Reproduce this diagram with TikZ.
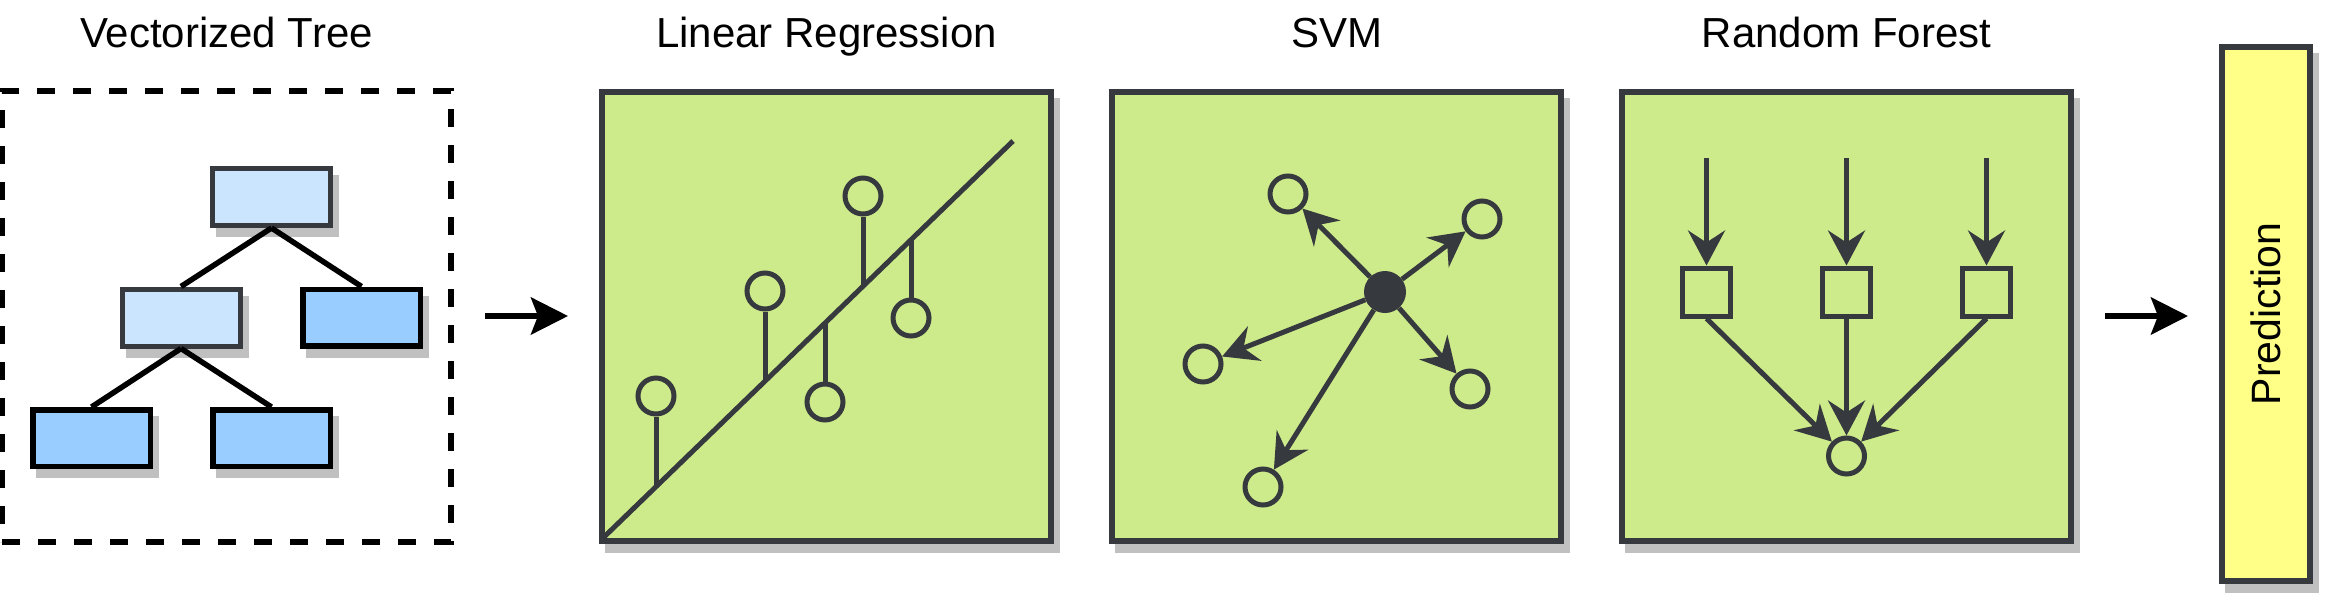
\documentclass[tikz,border=0pt]{standalone}
\usepackage{fontspec}
\setmainfont{Liberation Sans}
\usetikzlibrary{arrows.meta}
\definecolor{dgray}{HTML}{36393D}
\definecolor{lblue}{HTML}{CCE5FF}
\definecolor{mblue}{HTML}{99CCFF}
\definecolor{lgreen}{HTML}{CDEB8B}
\definecolor{lyellow}{HTML}{FFFF88}
\definecolor{shadowgray}{HTML}{C0C0C0}
\tikzset{
  shadowed/.style={preaction={draw=shadowgray,fill=shadowgray,transform canvas={shift={(6pt,-9pt)}}}},
  heading/.style={anchor=base,text=black,font=\fontsize{42}{50}\selectfont},
  treeinner/.style={shadowed,draw=dgray,fill=lblue,line width=5pt,minimum width=118pt,minimum height=57pt,inner sep=0pt},
  treeleaf/.style={shadowed,draw=black,fill=mblue,line width=5.5pt,minimum width=117.5pt,minimum height=56.5pt,inner sep=0pt},
  treeedge/.style={black,line width=5.5pt},
  greenbox/.style={shadowed,draw=dgray,fill=lgreen,line width=6pt,minimum size=449pt,inner sep=0pt},
  predbox/.style={shadowed,draw=dgray,fill=lyellow,line width=6pt,minimum width=88pt,minimum height=534pt,inner sep=0pt,font=\fontsize{41}{48}\selectfont},
  ring/.style={circle,draw=dgray,fill=lgreen,line width=5pt,minimum size=36pt,inner sep=0pt},
  hubdot/.style={circle,fill=dgray,minimum size=42pt,inner sep=0pt},
  leafsq/.style={draw=dgray,fill=lgreen,line width=5pt,minimum size=48pt,inner sep=0pt},
  stemline/.style={dgray,line width=5pt},
  iconarrow/.style={-{Stealth[length=35pt,width=37pt,inset=12pt]},dgray,line width=5pt},
  bigarrow/.style={-{Stealth[length=37pt,width=37pt,inset=7pt]},black,line width=6pt}
}
\begin{document}
\begin{tikzpicture}[x=1pt,y=-1pt]
\useasboundingbox (0,0) rectangle (2325,600);

% headings:
\node[heading] (hvt) at (226.5,47) {Vectorized Tree};
\node[heading] (hlr) at (826.5,47) {Linear Regression};
\node[heading] (hsvm) at (1336.5,47) {SVM};
\node[heading] (hrf) at (1846.5,47) {Random Forest};

% vectorized tree:
\node[draw=black,line width=5.5pt,dash pattern=on 18pt off 18pt,minimum width=449pt,minimum height=451pt,inner sep=0pt] (vt) at (226.5,316.5) {};
\node[treeinner] (root) at (271.5,197) {};
\node[treeinner] (ml) at (181,317.5) {};
\node[treeleaf] (mr) at (361.5,317.5) {};
\node[treeleaf] (bl) at (91.5,438) {};
\node[treeleaf] (br) at (271.5,438) {};
\draw[treeedge] (root.south) -- (ml.north);
\draw[treeedge] (root.south) -- (mr.north);
\draw[treeedge] (ml.south) -- (bl.north);
\draw[treeedge] (ml.south) -- (br.north);

% linear regression:
\node[greenbox] (lr) at (826.5,316) {};
\coordinate (lrA) at (603,538);
\coordinate (lrB) at (1013,141);
\draw[stemline] (lrA) -- (lrB);
\node[ring] (c1) at (656,396) {};
\node[ring] (c2) at (765,291) {};
\node[ring] (c3) at (863,196) {};
\node[ring] (c4) at (825,402) {};
\node[ring] (c5) at (911,318) {};
\coordinate (l1) at (656,486.7);
\coordinate (l2) at (765,381.1);
\coordinate (l3) at (863,286.2);
\coordinate (l4) at (825,323.0);
\coordinate (l5) at (911,239.8);
\draw[stemline] (c1.south) -- (l1);
\draw[stemline] (c2.south) -- (l2);
\draw[stemline] (c3.south) -- (l3);
\draw[stemline] (c4.north) -- (l4);
\draw[stemline] (c5.north) -- (l5);

% svm:
\node[greenbox] (svm) at (1336.5,316) {};
\node[hubdot] (hub) at (1385,292) {};
\node[ring] (s1) at (1288,194) {};
\node[ring] (s2) at (1482,219) {};
\node[ring] (s3) at (1203,364) {};
\node[ring] (s4) at (1470,389) {};
\node[ring] (s5) at (1263,487) {};
\foreach \s in {s1,s2,s3,s4,s5}
  \draw[iconarrow] (hub) -- (\s);

% random forest:
\node[greenbox] (rf) at (1846.5,316) {};
\node[leafsq] (q1) at (1706.5,292) {};
\node[leafsq] (q2) at (1846.5,292) {};
\node[leafsq] (q3) at (1986.5,292) {};
\node[ring] (vote) at (1846.5,456) {};
\coordinate (t1) at (1706.5,158);
\coordinate (t2) at (1846.5,158);
\coordinate (t3) at (1986.5,158);
\foreach \i in {1,2,3}{
  \draw[iconarrow] (t\i) -- (q\i);
  \draw[iconarrow] (q\i.south) -- (vote);
}

% prediction:
\node[predbox] (pred) at (2266,314) {\rotatebox{90}{Prediction}};

% flow arrows:
\draw[bigarrow,shorten <=31pt,shorten >=31pt] (vt.east |- lr.west) -- (lr.west);
\draw[bigarrow,shorten <=31pt,shorten >=31pt] (rf.east) -- (rf.east -| pred.west);

\end{tikzpicture}
\end{document}
